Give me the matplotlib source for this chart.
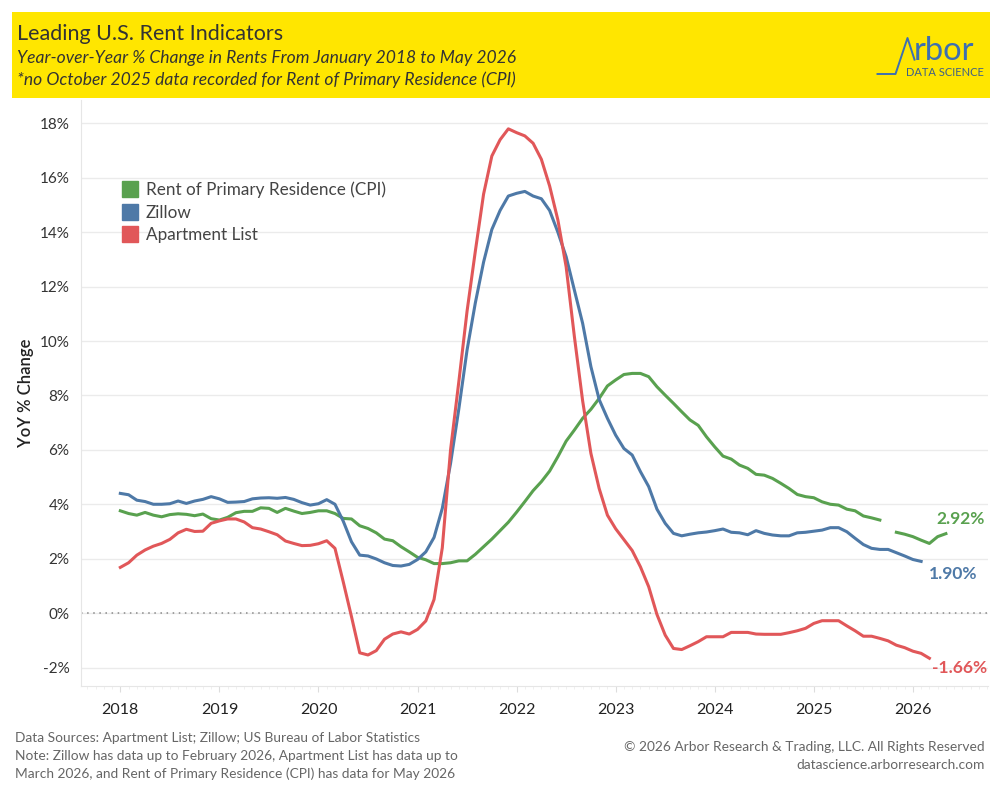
import numpy as np
import matplotlib.pyplot as plt
from matplotlib.patches import Rectangle

plt.rcParams['font.family'] = ['Lato', 'DejaVu Sans']

# Monthly YoY % change, starting January 2018
zillow = [4.40, 4.35, 4.15, 4.10, 4.00, 4.00, 4.02, 4.12, 4.03, 4.12, 4.18, 4.28,
          4.20, 4.07, 4.08, 4.10, 4.20, 4.23, 4.24, 4.22, 4.25, 4.18, 4.06, 3.97,
          4.02, 4.17, 4.00, 3.38, 2.62, 2.13, 2.10, 1.99, 1.85, 1.75, 1.73, 1.79,
          1.97, 2.25, 2.78, 3.85, 5.50, 7.50, 9.67, 11.40, 12.90, 14.10, 14.80, 15.33,
          15.43, 15.50, 15.33, 15.23, 14.80, 14.00, 13.10, 11.87, 10.65, 9.06, 7.85, 7.16,
          6.54, 6.05, 5.81, 5.20, 4.65, 3.82, 3.30, 2.93, 2.84, 2.90, 2.95, 2.98,
          3.03, 3.09, 2.97, 2.95, 2.88, 3.03, 2.93, 2.87, 2.84, 2.84, 2.95, 2.97,
          3.01, 3.05, 3.14, 3.14, 2.99, 2.75, 2.52, 2.38, 2.34, 2.34, 2.22, 2.10,
          1.97, 1.90]

cpi_rent = [3.76, 3.66, 3.60, 3.70, 3.60, 3.54, 3.62, 3.65, 3.63, 3.58, 3.64, 3.47,
            3.42, 3.52, 3.69, 3.74, 3.74, 3.87, 3.85, 3.70, 3.85, 3.75, 3.66, 3.70,
            3.76, 3.76, 3.66, 3.48, 3.46, 3.21, 3.11, 2.95, 2.72, 2.66, 2.44, 2.25,
            2.05, 1.96, 1.82, 1.82, 1.85, 1.92, 1.92, 2.16, 2.44, 2.72, 3.03, 3.34,
            3.71, 4.10, 4.50, 4.83, 5.22, 5.75, 6.32, 6.73, 7.16, 7.49, 7.89, 8.35,
            8.57, 8.77, 8.81, 8.81, 8.69, 8.32, 8.01, 7.71, 7.40, 7.10, 6.90, 6.48,
            6.11, 5.77, 5.66, 5.44, 5.32, 5.10, 5.07, 4.95, 4.77, 4.58, 4.36, 4.28,
            4.24, 4.09, 4.00, 3.97, 3.82, 3.76, 3.57, 3.50, 3.42, np.nan, 2.97, 2.90,
            2.81, 2.68, 2.56, 2.81, 2.92]

apartment_list = [1.68, 1.85, 2.13, 2.32, 2.46, 2.56, 2.71, 2.95, 3.08, 3.00, 3.01, 3.30,
                  3.39, 3.46, 3.46, 3.35, 3.14, 3.09, 2.99, 2.88, 2.65, 2.56, 2.48, 2.49,
                  2.55, 2.66, 2.38, 1.15, -0.13, -1.46, -1.54, -1.38, -0.96, -0.77, -0.69, -0.77,
                  -0.60, -0.29, 0.50, 2.40, 6.00, 8.50, 11.10, 13.30, 15.40, 16.80, 17.40, 17.80,
                  17.66, 17.54, 17.27, 16.68, 15.70, 14.45, 12.73, 10.16, 7.80, 5.87, 4.58, 3.60,
                  3.10, 2.70, 2.30, 1.70, 0.97, -0.05, -0.81, -1.30, -1.34, -1.20, -1.05, -0.87,
                  -0.87, -0.87, -0.71, -0.71, -0.71, -0.77, -0.78, -0.78, -0.78, -0.72, -0.65, -0.56,
                  -0.38, -0.28, -0.28, -0.28, -0.47, -0.65, -0.85, -0.85, -0.93, -1.02, -1.18, -1.27,
                  -1.40, -1.48, -1.66]

series_names = ["Rent of Primary Residence (CPI)", "Zillow", "Apartment List"]
series_colors = ["#59a14f", "#4e79a7", "#e15759"]
year_ticks = list(range(2018, 2027))
y_ticks = list(range(-2, 19, 2))


def month_axis(values):
    return 2018 + np.arange(len(values)) / 12.0


figure = plt.figure(figsize=(10, 8), dpi=100)

# yellow header band
figure.patches.append(Rectangle((0.012, 0.8775), 0.978, 0.1075, transform=figure.transFigure,
                                facecolor="#ffe600", edgecolor="none", zorder=0))
figure.text(0.017, 0.958, "Leading U.S. Rent Indicators", fontsize=15.5, color="#333333",
            va="center", ha="left")
figure.text(0.017, 0.927, "Year-over-Year % Change in Rents From January 2018 to May 2026",
            fontsize=12.6, style="italic", color="#333333", va="center", ha="left")
figure.text(0.017, 0.9005, "*no October 2025 data recorded for Rent of Primary Residence (CPI)",
            fontsize=12.6, style="italic", color="#333333", va="center", ha="left")

# Arbor logo
logo_color = "#3d6fb0"
figure.lines.append(plt.Line2D([0.8775, 0.8955, 0.9075, 0.9145], [0.9075, 0.9075, 0.9525, 0.9255],
                               transform=figure.transFigure, color=logo_color, linewidth=1.4))
figure.text(0.9135, 0.9245, "rbor", fontsize=23.5, color=logo_color, va="baseline", ha="left")
figure.text(0.9055, 0.9095, "DATA SCIENCE", fontsize=8, color="#3d5f88", va="center", ha="left")

axis = figure.add_axes([0.0807, 0.1425, 0.9073, 0.7325])

lines_data = [cpi_rent, zillow, apartment_list]
for values, name, color in zip(lines_data, series_names, series_colors):
    axis.plot(month_axis(values), values, color=color, linewidth=2.2, label=name,
              solid_joinstyle="round", zorder=3)

axis.axhline(0, color="#888888", linestyle=(0, (1, 3)), linewidth=1.1, zorder=2)

# end labels
label_dx = [-0.1, 0.08, 0.03]
label_dy = [0.55, -0.45, -0.35]
for values, color, dx, dy in zip(lines_data, series_colors, label_dx, label_dy):
    x_end = month_axis(values)[-1]
    axis.text(x_end + dx, values[-1] + dy, f"{values[-1]:.2f}%", color=color,
              fontsize=12.5, fontweight="bold", ha="left", va="center")

axis.set_xlim(2018 - 4.8 / 12, 2018 + 105.1 / 12)
axis.set_ylim(-2.68, 18.86)
axis.set_xticks(year_ticks)
axis.set_xticklabels([str(y) for y in year_ticks], fontsize=11.5, color="#222222")
axis.set_xticks(2018 + np.arange(-4, 106) / 12.0, minor=True)
axis.set_yticks(y_ticks)
axis.set_yticklabels([f"{v}%" for v in y_ticks], fontsize=11, color="#333333")
axis.tick_params(axis="y", length=0, pad=8)
axis.tick_params(axis="x", which="major", length=4, color="#dddddd", pad=8)
axis.tick_params(axis="x", which="minor", length=2, color="#eeeeee")
axis.grid(axis="y", color="#ebebeb", linewidth=1)
axis.set_axisbelow(True)
for side in ["top", "right"]:
    axis.spines[side].set_visible(False)
for side in ["left", "bottom"]:
    axis.spines[side].set_color("#e6e6e6")
axis.set_ylabel("YoY % Change", fontsize=12, fontweight="semibold", color="#222222", labelpad=4)

# legend with square markers
handles = [plt.Line2D([], [], marker="s", linestyle="none", markersize=11, color=c) for c in series_colors]
legend = axis.legend(handles, series_names, loc="upper left", bbox_to_anchor=(0.038, 0.872),
                     frameon=False, fontsize=12.3, handlelength=0.9, handletextpad=0.5,
                     labelspacing=0.36, borderaxespad=0)
for text in legend.get_texts():
    text.set_color("#444444")

# footer
footer_left = ["Data Sources: Apartment List; Zillow; US Bureau of Labor Statistics",
               "Note: Zillow has data up to February 2026, Apartment List has data up to",
               "March 2026, and Rent of Primary Residence (CPI) has data for May 2026"]
for i, line in enumerate(footer_left):
    figure.text(0.015, 0.0775 - i * 0.0225, line, fontsize=9.9, color="#666666", va="center", ha="left")
figure.text(0.985, 0.066, "\u00a9 2026 Arbor Research & Trading, LLC. All Rights Reserved",
            fontsize=9.9, color="#666666", va="center", ha="right")
figure.text(0.985, 0.0435, "datascience.arborresearch.com", fontsize=9.9, color="#666666",
            va="center", ha="right")

figure.savefig("out.png", dpi=100)
